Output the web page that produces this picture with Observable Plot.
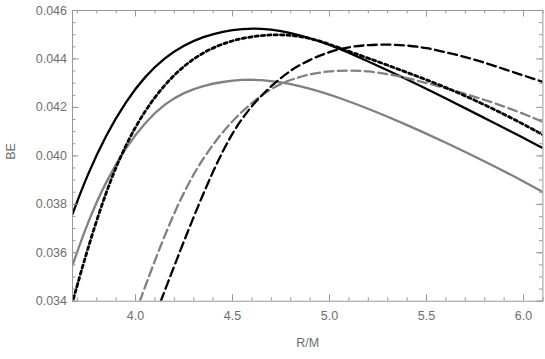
<!DOCTYPE html>
<html>
<head>
<meta charset="utf-8">
<script src="https://cdn.jsdelivr.net/npm/d3@7"></script>
<script src="https://cdn.jsdelivr.net/npm/@observablehq/plot@0.6"></script>
<style>
  html, body { margin: 0; padding: 0; background: #fff; }
</style>
</head>
<body>
<div id="chart"></div>
<script>
// Black solid curve
const blackSolidX = [3.675, 3.75, 3.85, 3.95, 4.05, 4.15, 4.25, 4.35, 4.45, 4.55, 4.65, 4.75, 4.85, 4.95, 5.05, 5.2, 5.4, 5.6, 5.8, 6.0, 6.1];
const blackSolidY = [0.0376, 0.0392, 0.0409, 0.04225, 0.0433, 0.04405, 0.04457, 0.04492, 0.04514, 0.04525, 0.04526, 0.04516, 0.04498, 0.04473, 0.04443, 0.0439, 0.04316, 0.04237, 0.04156, 0.04074, 0.04032];
// Black dotted curve
const blackDotX = [3.68, 3.75, 3.85, 3.95, 4.05, 4.15, 4.25, 4.35, 4.45, 4.55, 4.65, 4.75, 4.85, 4.95, 5.05, 5.2, 5.4, 5.6, 5.8, 6.0, 6.1];
const blackDotY = [0.0341, 0.0361, 0.0386, 0.0405, 0.0419, 0.04295, 0.04373, 0.04428, 0.04464, 0.04486, 0.04498, 0.04501, 0.04494, 0.04475, 0.04446, 0.04403, 0.04345, 0.04283, 0.04212, 0.04131, 0.04087];
// Gray solid curve
const graySolidX = [3.675, 3.75, 3.85, 3.95, 4.05, 4.15, 4.25, 4.35, 4.45, 4.55, 4.65, 4.75, 4.85, 4.95, 5.05, 5.2, 5.4, 5.6, 5.8, 6.0, 6.1];
const graySolidY = [0.03548, 0.0372, 0.0390, 0.04035, 0.0414, 0.04215, 0.04262, 0.0429, 0.04306, 0.04315, 0.04314, 0.04304, 0.04288, 0.04266, 0.0424, 0.04195, 0.04128, 0.04055, 0.03978, 0.03895, 0.0385];
// Gray dashed curve
const grayDashX = [4.022, 4.1, 4.2, 4.3, 4.4, 4.5, 4.6, 4.7, 4.8, 4.9, 5.0, 5.1, 5.2, 5.3, 5.4, 5.5, 5.6, 5.7, 5.8, 5.9, 6.0, 6.1];
const grayDashY = [0.0340, 0.0357, 0.0377, 0.0393, 0.0405, 0.04147, 0.0422, 0.0428, 0.04315, 0.04338, 0.0435, 0.04353, 0.0435, 0.04338, 0.04321, 0.04301, 0.04279, 0.04256, 0.04231, 0.04204, 0.04174, 0.0414];
// Black dashed curve
const blackDashX = [4.13, 4.2, 4.3, 4.4, 4.5, 4.6, 4.7, 4.8, 4.9, 5.0, 5.1, 5.2, 5.3, 5.4, 5.5, 5.6, 5.7, 5.8, 5.9, 6.0, 6.1];
const blackDashY = [0.0340, 0.03547, 0.0375, 0.0394, 0.0410, 0.0421, 0.0429, 0.04355, 0.04398, 0.0443, 0.0445, 0.04458, 0.0446, 0.04456, 0.04446, 0.04428, 0.04408, 0.04385, 0.04358, 0.04332, 0.04305];

// Ticks and labels
const xMajorTicks = [4.0, 4.5, 5.0, 5.5, 6.0];
const xTickLabels = ["4.0", "4.5", "5.0", "5.5", "6.0"];
const yMajorTicks = [0.034, 0.036, 0.038, 0.040, 0.042, 0.044, 0.046];
const yTickLabels = ["0.034", "0.036", "0.038", "0.040", "0.042", "0.044", "0.046"];
const xAxisLabel = "R/M";
const yAxisLabel = "BE";

const xMinorTicks = d3.range(37, 62).map(i => i / 10);
const yMinorTicks = d3.range(68, 93).map(i => i / 2000);

const toRows = (xs, ys) => xs.map((x, i) => ({x, y: ys[i]}));
const series = [
  {rows: toRows(blackSolidX, blackSolidY), stroke: "#000", width: 2.3, dash: null},
  {rows: toRows(graySolidX, graySolidY), stroke: "#808080", width: 2.3, dash: null},
  {rows: toRows(grayDashX, grayDashY), stroke: "#808080", width: 2.3, dash: "9,4.5"},
  {rows: toRows(blackDashX, blackDashY), stroke: "#000", width: 2.3, dash: "9,4.5"},
  {rows: toRows(blackDotX, blackDotY), stroke: "#000", width: 2.8, dash: "3.2,3.2"}
];

const W = 545, H = 359, ML = 72, MR = 2.6, MT = 10, MB = 58.3;
const frameW = W - ML - MR, frameH = H - MT - MB;
const gridColor = "#999";
const textColor = "#6e6e6e";
const majorLen = 6.5, minorLen = 3.5;

const tickMarks = [
  Plot.tickX(xMinorTicks, {x: d => d, insetTop: frameH - minorLen, stroke: gridColor}),
  Plot.tickX(xMajorTicks, {x: d => d, insetTop: frameH - majorLen, stroke: gridColor}),
  Plot.tickX(xMinorTicks, {x: d => d, insetBottom: frameH - minorLen, stroke: gridColor}),
  Plot.tickX(xMajorTicks, {x: d => d, insetBottom: frameH - majorLen, stroke: gridColor}),
  Plot.tickY(yMinorTicks, {y: d => d, insetRight: frameW - minorLen, stroke: gridColor}),
  Plot.tickY(yMajorTicks, {y: d => d, insetRight: frameW - majorLen, stroke: gridColor}),
  Plot.tickY(yMinorTicks, {y: d => d, insetLeft: frameW - minorLen, stroke: gridColor}),
  Plot.tickY(yMajorTicks, {y: d => d, insetLeft: frameW - majorLen, stroke: gridColor})
];

const chart = Plot.plot({
  width: W,
  height: H,
  marginLeft: ML,
  marginRight: MR,
  marginTop: MT,
  marginBottom: MB,
  style: {fontFamily: "'Liberation Sans', Arial, sans-serif", fontSize: "12.5px", background: "#fff", color: textColor},
  x: {domain: [3.675, 6.1]},
  y: {domain: [0.034, 0.046]},
  marks: [
    ...series.map(s => Plot.line(s.rows, {
      x: "x", y: "y", curve: "basis", stroke: s.stroke, strokeWidth: s.width,
      strokeDasharray: s.dash, clip: true
    })),
    ...tickMarks,
    Plot.frame({stroke: gridColor, strokeWidth: 1}),
    Plot.axisX(xMajorTicks, {anchor: "bottom", tickSize: 0, tickPadding: 10, label: null,
      tickFormat: (d, i) => xTickLabels[i], fill: textColor, letterSpacing: "0.6px"}),
    Plot.axisY(yMajorTicks, {anchor: "left", tickSize: 0, tickPadding: 5.5, label: null,
      tickFormat: (d, i) => yTickLabels[i], fill: textColor, letterSpacing: "0.9px"}),
    Plot.text([yAxisLabel], {text: d => d, frameAnchor: "left", dx: -62, dy: 4, rotate: -90, fill: textColor}),
    Plot.text([xAxisLabel], {text: d => d, frameAnchor: "bottom", dy: 46, fill: textColor})
  ]
});
document.getElementById("chart").appendChild(chart);
</script>
</body>
</html>
